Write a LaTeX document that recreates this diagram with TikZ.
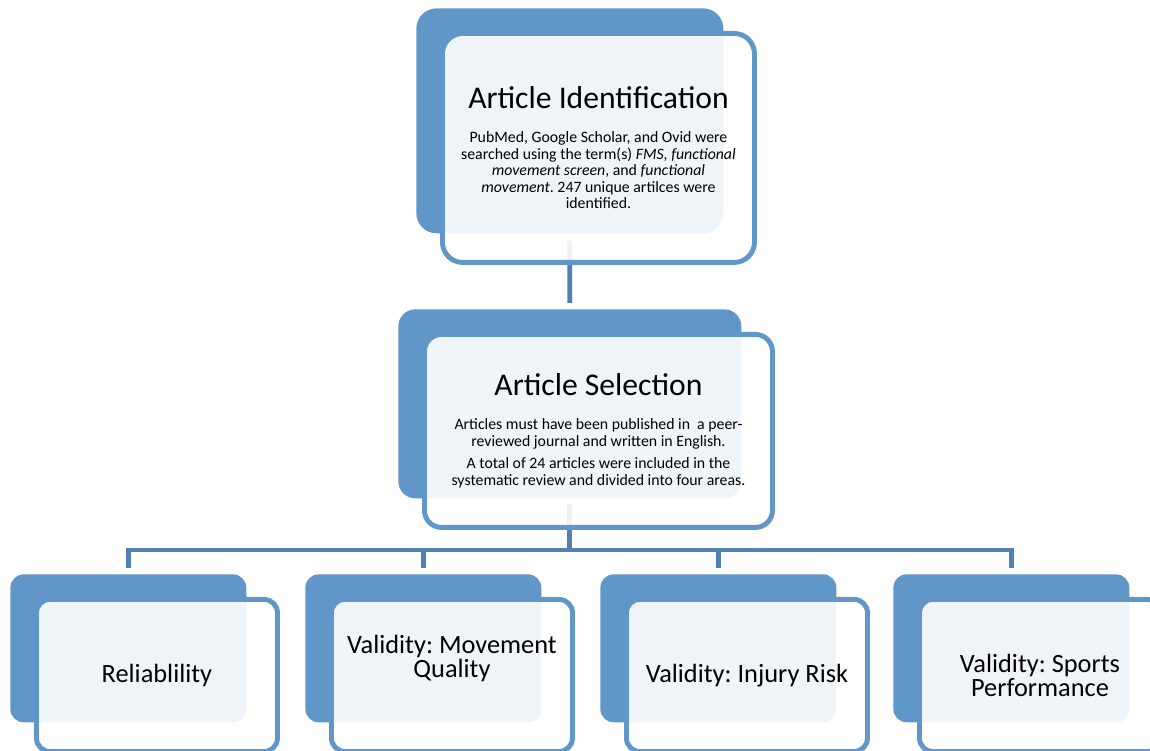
\documentclass[tikz,border=0pt]{standalone}
\usepackage{fontspec}
\setmainfont{Carlito}
\frenchspacing
\usetikzlibrary{backgrounds}

\definecolor{smartblue}{RGB}{97,150,201}
\definecolor{smartline}{RGB}{82,128,181}

\newcommand\boxshiftx{0.48}
\newcommand\boxshifty{0.46}
\newcommand\titlestyle{\fontsize{18}{21}\selectfont}
\newcommand\bodystyle{\fontsize{9}{9.4}\selectfont}
\newcommand\labelstyle{\fontsize{15}{15}\selectfont}

\tikzset{
  backbox/.style={fill=smartblue, anchor=north west, inner sep=0pt},
  frontbox/.style={draw=smartblue, line width=2.8pt, fill=white, fill opacity=0.9,
    text opacity=1, anchor=north west, inner sep=0pt, align=flush center},
  link/.style={draw=smartline, line width=2.7pt},
}

% #1 name, #2 x, #3 y (top left of the dark box), #4 width, #5 height, #6 text
\newcommand\flowbox[6]{
  \pgfmathsetmacro\boxradius{0.09 * #5}
  \pgfmathsetmacro\frontwidth{#4 + 0.1}
  \pgfmathsetmacro\frontheight{#5 + 0.08}
  \pgfmathsetmacro\boxtextwidth{#4 - 0.1}
  \node[backbox, rounded corners=\boxradius cm, minimum width=#4cm,
    minimum height=#5cm] (#1-back) at (#2, -#3) {};
  \node[frontbox, rounded corners=\boxradius cm, minimum width=\frontwidth cm,
    minimum height=\frontheight cm, text width=\boxtextwidth cm]
    (#1) at (#2 + \boxshiftx, -#3 - \boxshifty) {#6};
}

\begin{document}
\begin{tikzpicture}
  \useasboundingbox (0, 0) rectangle (23, -15.02);

  \flowbox{ident}{8.32}{0.16}{6.14}{4.5}{%
    {\titlestyle Article Identification\par}
    \vspace{10pt}
    {\bodystyle PubMed, Google Scholar, and Ovid were\\
    searched using the term(s) \textit{FMS, functional}\\
    \textit{movement screen}, and \textit{functional}\\
    \textit{movement}. 247 unique artilces were\\
    identified.\par}}
  \flowbox{select}{7.96}{6.18}{6.86}{3.78}{%
    {\titlestyle Article Selection\par}
    \vspace{10pt}
    {\bodystyle Articles must have been published in\ \ a peer-\\
    reviewed journal and written in English.\par
    \vspace{3.4pt}
    A total of 24 articles were included in the\\
    systematic review and divided into four areas.\par}}

  \flowbox{reliab}{0.2}{11.48}{4.72}{2.96}{\labelstyle Reliablility}
  \flowbox{movement}{6.1}{11.48}{4.72}{2.96}{\labelstyle Validity: Movement\\
    Quality\rule[-22pt]{0pt}{0pt}}
  \flowbox{injury}{12.0}{11.48}{4.72}{2.96}{\labelstyle Validity: Injury Risk}
  \flowbox{sports}{17.86}{11.48}{4.72}{2.96}{\labelstyle Validity: Sports\\ Performance}

  \coordinate (bus) at (0, -11.0);

  \begin{pgfonlayer}{background}
    \draw[link] ([yshift=-0.14cm]ident-back.south) -- ([yshift=0.12cm]select-back.north);
    \foreach \target in {reliab, movement, injury, sports}
      \draw[link] ([yshift=-0.1cm]select-back.south) -- (select-back.south |- bus)
        -| ([yshift=0.12cm]\target-back.north);
  \end{pgfonlayer}
\end{tikzpicture}
\end{document}
